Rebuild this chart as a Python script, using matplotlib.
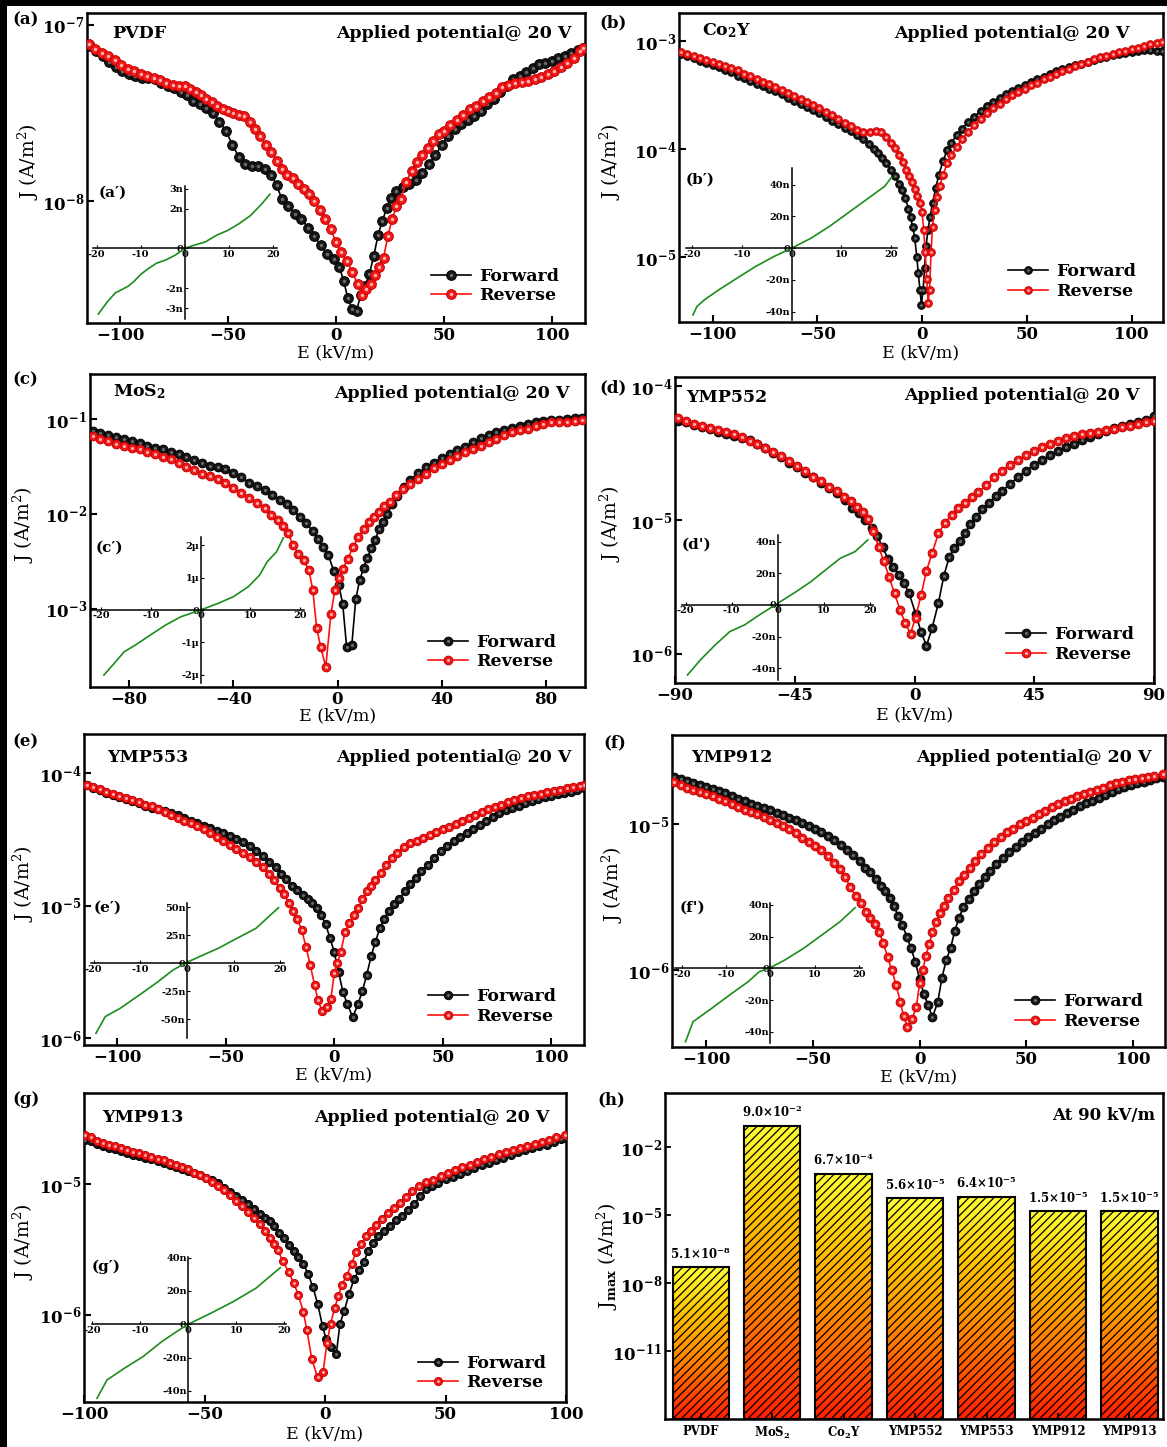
import numpy as np
import matplotlib
matplotlib.use("Agg")
import matplotlib.pyplot as plt
from matplotlib.colors import LinearSegmentedColormap
from matplotlib.patches import Rectangle
from matplotlib.ticker import FixedLocator, LogFormatterMathtext, NullLocator
from matplotlib.legend_handler import HandlerTuple

plt.rcParams.update({
    'font.family': 'DejaVu Serif',
    'font.weight': 'bold',
    'mathtext.fontset': 'custom',
    'mathtext.rm': 'DejaVu Serif:bold',
    'mathtext.it': 'DejaVu Serif:italic:bold',
    'mathtext.bf': 'DejaVu Serif:bold',
    'mathtext.default': 'regular',
    'axes.linewidth': 1.8,
    'hatch.linewidth': 0.9,
})

# ---------- J-E sweeps: (E in kV/m, log10 J in A/m^2) ----------
sweep_a_fwd = [
    (-114.0, -7.12), (-111.0, -7.15), (-108.0, -7.18), (-105.0, -7.21), (-102.0, -7.24),
    (-99.0, -7.26), (-96.0, -7.28), (-93.0, -7.29), (-90.0, -7.30), (-87.0, -7.305),
    (-84.0, -7.31), (-81.0, -7.33), (-78.0, -7.345), (-75.0, -7.36), (-72.0, -7.38),
    (-69.0, -7.40), (-66.0, -7.43), (-63.0, -7.45), (-60.0, -7.47), (-57.0, -7.50),
    (-54.0, -7.55), (-51.0, -7.60), (-48.0, -7.68), (-45.0, -7.75), (-42.0, -7.79),
    (-39.0, -7.80), (-36.0, -7.80), (-33.0, -7.82), (-30.0, -7.85), (-27.5, -7.91),
    (-25.0, -7.99), (-22.0, -8.03), (-19.0, -8.07), (-16.0, -8.10), (-13.0, -8.15),
    (-10.0, -8.20), (-7.0, -8.25), (-4.0, -8.30), (-1.0, -8.33), (1.5, -8.37),
    (3.5, -8.45), (5.5, -8.55), (7.5, -8.61), (9.5, -8.62), (11.5, -8.53),
    (13.5, -8.48), (15.5, -8.41), (17.5, -8.31), (19.5, -8.19), (21.5, -8.11),
    (23.5, -8.04), (25.5, -7.98), (28.0, -7.94), (31.0, -7.92), (34.0, -7.90),
    (37.0, -7.88), (40.0, -7.84), (43.0, -7.79), (46.0, -7.74), (49.0, -7.68),
    (52.0, -7.63), (55.0, -7.59), (58.0, -7.56), (61.0, -7.54), (64.0, -7.52),
    (67.0, -7.49), (70.0, -7.45), (73.0, -7.42), (76.0, -7.38), (79.0, -7.35),
    (82.0, -7.31), (85.0, -7.29), (88.0, -7.27), (91.0, -7.245), (94.0, -7.225),
    (97.0, -7.215), (100.0, -7.205), (103.0, -7.19), (106.0, -7.18), (109.0, -7.16),
    (112.0, -7.145), (114.5, -7.13)]
sweep_a_rev = [
    (-114.5, -7.11), (-111.5, -7.14), (-108.5, -7.16), (-105.5, -7.18), (-102.5, -7.20),
    (-99.5, -7.23), (-96.5, -7.25), (-93.5, -7.265), (-90.5, -7.28), (-87.5, -7.29),
    (-84.5, -7.30), (-81.5, -7.315), (-78.5, -7.33), (-75.5, -7.34), (-72.5, -7.345),
    (-70.0, -7.35), (-67.5, -7.365), (-65.0, -7.38), (-62.5, -7.40), (-60.0, -7.42),
    (-57.5, -7.44), (-55.0, -7.46), (-52.5, -7.475), (-50.0, -7.49), (-47.5, -7.50),
    (-45.0, -7.51), (-42.5, -7.52), (-40.0, -7.55), (-37.5, -7.59), (-35.0, -7.63),
    (-32.5, -7.68), (-30.0, -7.72), (-27.5, -7.77), (-25.0, -7.82), (-22.5, -7.85),
    (-20.0, -7.87), (-17.5, -7.90), (-15.0, -7.93), (-12.5, -7.96), (-10.0, -8.00),
    (-7.5, -8.05), (-5.0, -8.10), (-2.5, -8.16), (0.0, -8.23), (2.5, -8.29),
    (5.0, -8.34), (7.5, -8.40), (10.0, -8.47), (12.0, -8.53), (14.0, -8.50),
    (16.0, -8.47), (18.0, -8.42), (20.0, -8.37), (22.0, -8.32), (24.0, -8.20),
    (26.0, -8.10), (28.0, -8.03), (30.0, -7.99), (32.5, -7.89), (35.0, -7.83),
    (37.5, -7.78), (40.0, -7.74), (42.5, -7.70), (45.0, -7.66), (47.5, -7.62),
    (50.0, -7.60), (53.0, -7.57), (56.0, -7.54), (59.0, -7.51), (62.0, -7.48),
    (65.0, -7.46), (68.0, -7.43), (71.0, -7.41), (74.0, -7.385), (77.0, -7.355),
    (80.0, -7.34), (83.0, -7.33), (86.0, -7.325), (89.0, -7.32), (92.0, -7.31),
    (95.0, -7.295), (98.0, -7.28), (101.0, -7.26), (104.0, -7.24), (107.0, -7.22),
    (110.0, -7.19), (113.0, -7.15), (114.5, -7.13)]

sweep_b_fwd = [
    (-115.0, -3.12), (-112.0, -3.14), (-109.0, -3.16), (-106.0, -3.18), (-103.0, -3.20),
    (-100.0, -3.22), (-97.0, -3.24), (-94.0, -3.265), (-91.0, -3.29), (-88.0, -3.32),
    (-85.0, -3.345), (-82.0, -3.37), (-79.0, -3.395), (-76.0, -3.415), (-73.0, -3.44),
    (-70.0, -3.46), (-67.0, -3.49), (-64.0, -3.525), (-61.0, -3.555), (-58.0, -3.585),
    (-55.0, -3.61), (-52.0, -3.64), (-49.0, -3.67), (-46.0, -3.70), (-43.0, -3.735),
    (-40.0, -3.77), (-37.0, -3.80), (-34.0, -3.83), (-31.0, -3.87), (-28.0, -3.91),
    (-25.5, -3.95), (-23.0, -4.00), (-21.0, -4.04), (-19.0, -4.08), (-17.0, -4.13),
    (-15.0, -4.19), (-13.0, -4.25), (-11.0, -4.32), (-9.5, -4.38), (-8.0, -4.45),
    (-6.5, -4.55), (-5.5, -4.63), (-4.5, -4.72), (-3.5, -4.82), (-2.5, -5.00),
    (-1.8, -5.15), (-1.0, -5.30), (-0.3, -5.44), (0.5, -5.30), (1.2, -5.10),
    (1.9, -4.90), (2.8, -4.75), (3.8, -4.63), (5.0, -4.50), (6.5, -4.36),
    (8.0, -4.24), (10.0, -4.11), (12.0, -4.01), (14.0, -3.94), (16.5, -3.87),
    (19.0, -3.81), (22.0, -3.75), (25.0, -3.70), (28.0, -3.645), (31.0, -3.60),
    (34.0, -3.56), (37.0, -3.525), (40.0, -3.49), (43.0, -3.46), (46.0, -3.43),
    (49.0, -3.405), (52.0, -3.38), (55.0, -3.355), (58.0, -3.33), (61.0, -3.30),
    (64.0, -3.28), (67.0, -3.26), (70.0, -3.24), (73.0, -3.225), (76.0, -3.21),
    (79.0, -3.19), (82.0, -3.175), (85.0, -3.16), (88.0, -3.145), (91.0, -3.13),
    (94.0, -3.12), (97.0, -3.11), (100.0, -3.10), (103.0, -3.09), (106.0, -3.085),
    (109.0, -3.085), (112.0, -3.09), (114.5, -3.09)]
sweep_b_rev = [
    (-115.0, -3.10), (-112.0, -3.12), (-109.0, -3.14), (-106.0, -3.16), (-103.0, -3.175),
    (-100.0, -3.19), (-97.0, -3.21), (-94.0, -3.23), (-91.0, -3.25), (-88.0, -3.27),
    (-85.0, -3.30), (-82.0, -3.325), (-79.0, -3.35), (-76.0, -3.375), (-73.0, -3.40),
    (-70.0, -3.425), (-67.0, -3.45), (-64.0, -3.48), (-61.0, -3.51), (-58.0, -3.535),
    (-55.0, -3.565), (-52.0, -3.59), (-49.0, -3.62), (-46.0, -3.655), (-43.0, -3.685),
    (-40.0, -3.72), (-37.0, -3.755), (-34.0, -3.785), (-31.0, -3.82), (-28.0, -3.84),
    (-25.0, -3.84), (-22.0, -3.83), (-19.5, -3.84), (-17.0, -3.89), (-15.0, -3.94),
    (-13.0, -3.99), (-11.0, -4.05), (-9.0, -4.12), (-7.5, -4.19), (-6.0, -4.25),
    (-4.8, -4.30), (-3.5, -4.37), (-2.2, -4.43), (-1.0, -4.50), (0.0, -4.58),
    (0.8, -4.75), (1.5, -4.95), (2.2, -5.20), (2.9, -5.42), (3.6, -5.30),
    (4.3, -4.95), (5.0, -4.72), (6.0, -4.56), (7.2, -4.44), (8.5, -4.34),
    (10.0, -4.24), (12.0, -4.13), (14.0, -4.05), (16.5, -3.98), (19.0, -3.91),
    (22.0, -3.84), (25.0, -3.78), (28.0, -3.72), (31.0, -3.67), (34.0, -3.62),
    (37.0, -3.58), (40.0, -3.54), (43.0, -3.50), (46.0, -3.47), (49.0, -3.44),
    (52.0, -3.41), (55.0, -3.385), (58.0, -3.355), (61.0, -3.33), (64.0, -3.305),
    (67.0, -3.28), (70.0, -3.255), (73.0, -3.235), (76.0, -3.21), (79.0, -3.19),
    (82.0, -3.17), (85.0, -3.15), (88.0, -3.135), (91.0, -3.12), (94.0, -3.105),
    (97.0, -3.09), (100.0, -3.075), (103.0, -3.06), (106.0, -3.045), (109.0, -3.03),
    (112.0, -3.02), (114.5, -3.01)]

sweep_c_fwd = [
    (-94.0, -1.13), (-91.0, -1.15), (-88.0, -1.17), (-85.0, -1.19), (-82.0, -1.21),
    (-79.0, -1.235), (-76.0, -1.255), (-73.0, -1.28), (-70.0, -1.30), (-67.0, -1.32),
    (-64.0, -1.345), (-61.0, -1.37), (-58.0, -1.40), (-55.0, -1.43), (-52.0, -1.46),
    (-49.0, -1.49), (-46.0, -1.51), (-43.0, -1.53), (-40.0, -1.565), (-37.0, -1.61),
    (-34.0, -1.67), (-31.0, -1.71), (-28.0, -1.75), (-25.0, -1.80), (-22.0, -1.855),
    (-19.5, -1.90), (-17.0, -1.96), (-14.5, -2.03), (-12.0, -2.10), (-9.5, -2.18),
    (-7.5, -2.26), (-5.5, -2.35), (-3.5, -2.43), (-1.5, -2.60), (0.5, -2.75),
    (2.0, -2.95), (3.5, -3.40), (5.5, -3.38), (7.0, -2.90), (8.5, -2.70),
    (10.0, -2.57), (11.5, -2.46), (13.0, -2.36), (14.5, -2.27), (16.0, -2.16),
    (17.5, -2.08), (19.0, -2.00), (21.0, -1.90), (23.0, -1.81), (25.5, -1.72),
    (28.0, -1.64), (31.0, -1.57), (34.0, -1.51), (37.0, -1.46), (40.0, -1.41),
    (43.0, -1.37), (46.0, -1.33), (49.0, -1.29), (52.0, -1.24), (55.0, -1.20),
    (58.0, -1.165), (61.0, -1.135), (64.0, -1.115), (67.0, -1.095), (70.0, -1.075),
    (73.0, -1.055), (76.0, -1.035), (79.0, -1.02), (82.0, -1.01), (85.0, -1.005),
    (88.0, -0.995), (91.0, -0.99), (94.0, -0.985)]
sweep_c_rev = [
    (-94.0, -1.18), (-91.0, -1.205), (-88.0, -1.235), (-85.0, -1.26), (-82.0, -1.28),
    (-79.0, -1.305), (-76.0, -1.32), (-73.0, -1.345), (-70.0, -1.37), (-67.0, -1.40),
    (-64.0, -1.425), (-61.0, -1.465), (-58.0, -1.50), (-55.0, -1.54), (-52.0, -1.575),
    (-49.0, -1.605), (-46.0, -1.635), (-43.0, -1.67), (-40.0, -1.725), (-37.0, -1.78),
    (-34.0, -1.835), (-31.0, -1.885), (-28.0, -1.94), (-25.5, -2.01), (-23.0, -2.06),
    (-21.0, -2.13), (-19.0, -2.20), (-17.0, -2.33), (-15.0, -2.42), (-13.0, -2.49),
    (-11.0, -2.59), (-9.5, -2.80), (-8.0, -3.20), (-6.5, -3.40), (-4.5, -3.61),
    (-2.5, -3.05), (-1.0, -2.80), (0.5, -2.68), (2.0, -2.58), (4.0, -2.47),
    (6.0, -2.35), (8.0, -2.24), (10.0, -2.16), (12.0, -2.09), (14.0, -2.03),
    (16.0, -1.98), (18.0, -1.92), (20.0, -1.87), (22.5, -1.80), (25.0, -1.74),
    (28.0, -1.68), (31.0, -1.63), (34.0, -1.575), (37.0, -1.52), (40.0, -1.475),
    (43.0, -1.43), (46.0, -1.39), (49.0, -1.35), (52.0, -1.32), (55.0, -1.28),
    (58.0, -1.245), (61.0, -1.21), (64.0, -1.17), (67.0, -1.14), (70.0, -1.12),
    (73.0, -1.10), (76.0, -1.075), (79.0, -1.05), (82.0, -1.035), (85.0, -1.03),
    (88.0, -1.03), (91.0, -1.02), (94.0, -1.01)]

sweep_d_fwd = [
    (-89.0, -4.26), (-86.0, -4.27), (-83.0, -4.29), (-80.0, -4.305), (-77.0, -4.32),
    (-74.0, -4.34), (-71.0, -4.355), (-68.0, -4.37), (-65.0, -4.385), (-62.0, -4.405),
    (-59.0, -4.43), (-56.0, -4.465), (-53.0, -4.50), (-50.0, -4.53), (-47.0, -4.57),
    (-44.0, -4.605), (-41.0, -4.645), (-38.0, -4.68), (-35.0, -4.72), (-32.0, -4.76),
    (-29.0, -4.80), (-26.0, -4.85), (-23.5, -4.91), (-21.0, -4.95), (-18.5, -5.00),
    (-16.0, -5.06), (-14.0, -5.12), (-12.0, -5.20), (-10.0, -5.29), (-8.0, -5.35),
    (-6.0, -5.41), (-4.0, -5.47), (-2.0, -5.55), (0.4, -5.70), (2.5, -5.84),
    (4.5, -5.94), (6.6, -5.81), (9.0, -5.62), (11.0, -5.42), (13.0, -5.28),
    (15.0, -5.21), (17.0, -5.16), (19.0, -5.10), (21.0, -5.03), (23.0, -4.98),
    (25.5, -4.92), (28.0, -4.87), (30.5, -4.82), (33.0, -4.78), (36.0, -4.73),
    (39.0, -4.675), (42.0, -4.63), (45.0, -4.585), (48.0, -4.55), (51.0, -4.515),
    (54.0, -4.485), (57.0, -4.455), (60.0, -4.43), (63.0, -4.40), (66.0, -4.38),
    (69.0, -4.355), (72.0, -4.335), (75.0, -4.315), (78.0, -4.30), (81.0, -4.285),
    (84.0, -4.27), (87.0, -4.25), (90.0, -4.22)]
sweep_d_rev = [
    (-89.0, -4.24), (-86.0, -4.26), (-83.0, -4.28), (-80.0, -4.30), (-77.0, -4.31),
    (-74.0, -4.325), (-71.0, -4.345), (-68.0, -4.36), (-65.0, -4.38), (-62.0, -4.41),
    (-59.0, -4.43), (-56.0, -4.46), (-53.0, -4.49), (-50.0, -4.52), (-47.0, -4.555),
    (-44.0, -4.595), (-41.0, -4.635), (-38.0, -4.675), (-35.0, -4.71), (-32.0, -4.75),
    (-29.0, -4.785), (-26.5, -4.83), (-24.0, -4.86), (-21.5, -4.905), (-19.5, -4.94),
    (-17.5, -4.99), (-15.5, -5.08), (-13.5, -5.20), (-11.5, -5.31), (-9.5, -5.43),
    (-7.5, -5.55), (-5.5, -5.67), (-3.5, -5.77), (-1.5, -5.85), (0.4, -5.73),
    (2.5, -5.56), (4.5, -5.38), (6.6, -5.25), (9.0, -5.10), (11.5, -5.02),
    (14.0, -4.96), (16.5, -4.91), (19.0, -4.87), (21.5, -4.83), (24.0, -4.79),
    (27.0, -4.74), (30.0, -4.68), (33.0, -4.63), (36.0, -4.585), (39.0, -4.55),
    (42.0, -4.515), (45.0, -4.485), (48.0, -4.455), (51.0, -4.43), (54.0, -4.41),
    (57.0, -4.39), (60.0, -4.375), (63.0, -4.36), (66.0, -4.35), (69.0, -4.34),
    (72.0, -4.33), (75.0, -4.32), (78.0, -4.305), (81.0, -4.295), (84.0, -4.28),
    (87.0, -4.27), (90.0, -4.26)]

sweep_e_fwd = [
    (-114.0, -4.09), (-111.0, -4.11), (-108.0, -4.13), (-105.0, -4.15), (-102.0, -4.165),
    (-99.0, -4.18), (-96.0, -4.195), (-93.0, -4.21), (-90.0, -4.225), (-87.0, -4.245),
    (-84.0, -4.26), (-81.0, -4.275), (-78.0, -4.29), (-75.0, -4.305), (-72.0, -4.32),
    (-69.0, -4.34), (-66.0, -4.36), (-63.0, -4.38), (-60.0, -4.40), (-57.0, -4.415),
    (-54.0, -4.435), (-51.0, -4.455), (-48.0, -4.475), (-45.0, -4.50), (-42.0, -4.52),
    (-39.0, -4.55), (-36.0, -4.585), (-33.0, -4.625), (-30.0, -4.67), (-27.0, -4.71),
    (-24.5, -4.76), (-22.0, -4.80), (-19.5, -4.85), (-17.0, -4.885), (-14.5, -4.92),
    (-12.0, -4.95), (-10.0, -4.98), (-8.0, -5.02), (-6.0, -5.07), (-4.0, -5.14),
    (-2.0, -5.24), (0.0, -5.35), (2.0, -5.50), (4.0, -5.65), (6.0, -5.74),
    (8.5, -5.84), (11.0, -5.74), (13.0, -5.64), (15.0, -5.52), (17.0, -5.38),
    (19.0, -5.27), (21.0, -5.17), (23.0, -5.10), (25.0, -5.04), (27.5, -4.99),
    (30.0, -4.95), (32.5, -4.89), (35.0, -4.84), (37.5, -4.79), (40.0, -4.74),
    (43.0, -4.69), (46.0, -4.64), (49.0, -4.59), (52.0, -4.55), (55.0, -4.515),
    (58.0, -4.48), (61.0, -4.45), (64.0, -4.42), (67.0, -4.39), (70.0, -4.36),
    (73.0, -4.33), (76.0, -4.30), (79.0, -4.28), (82.0, -4.26), (85.0, -4.245),
    (88.0, -4.225), (91.0, -4.21), (94.0, -4.195), (97.0, -4.18), (100.0, -4.17),
    (103.0, -4.16), (106.0, -4.15), (109.0, -4.14), (112.0, -4.125), (115.0, -4.11)]
sweep_e_rev = [
    (-114.0, -4.09), (-111.0, -4.105), (-108.0, -4.12), (-105.0, -4.14), (-102.0, -4.155),
    (-99.0, -4.17), (-96.0, -4.185), (-93.0, -4.20), (-90.0, -4.22), (-87.0, -4.24),
    (-84.0, -4.25), (-81.0, -4.27), (-78.0, -4.295), (-75.0, -4.32), (-72.0, -4.34),
    (-69.0, -4.36), (-66.0, -4.38), (-63.0, -4.40), (-60.0, -4.425), (-57.0, -4.455),
    (-54.0, -4.48), (-51.0, -4.51), (-48.0, -4.54), (-45.0, -4.57), (-42.0, -4.60),
    (-39.0, -4.63), (-36.0, -4.67), (-33.0, -4.71), (-30.0, -4.76), (-27.5, -4.81),
    (-25.0, -4.87), (-23.0, -4.91), (-21.0, -4.98), (-19.0, -5.04), (-17.0, -5.10),
    (-15.0, -5.18), (-13.0, -5.31), (-11.0, -5.45), (-9.0, -5.60), (-7.5, -5.71),
    (-5.7, -5.79), (-3.5, -5.76), (-1.5, -5.70), (0.0, -5.51), (1.5, -5.43),
    (3.0, -5.35), (5.0, -5.20), (7.0, -5.13), (9.0, -5.07), (11.0, -5.02),
    (13.0, -4.95), (15.0, -4.89), (17.0, -4.85), (19.0, -4.81), (21.5, -4.75),
    (24.0, -4.69), (26.5, -4.64), (29.0, -4.60), (32.0, -4.56), (35.0, -4.53),
    (38.0, -4.51), (41.0, -4.49), (44.0, -4.465), (47.0, -4.445), (50.0, -4.425),
    (53.0, -4.405), (56.0, -4.385), (59.0, -4.36), (62.0, -4.34), (65.0, -4.315),
    (68.0, -4.295), (71.0, -4.275), (74.0, -4.255), (77.0, -4.24), (80.0, -4.22),
    (83.0, -4.205), (86.0, -4.19), (89.0, -4.175), (92.0, -4.165), (95.0, -4.155),
    (98.0, -4.145), (101.0, -4.135), (104.0, -4.125), (107.0, -4.115), (110.0, -4.105),
    (113.0, -4.095), (115.0, -4.09)]

sweep_f_fwd = [
    (-115.0, -4.68), (-112.0, -4.69), (-109.0, -4.705), (-106.0, -4.72), (-103.0, -4.735),
    (-100.0, -4.745), (-97.0, -4.76), (-94.0, -4.775), (-91.0, -4.79), (-88.0, -4.805),
    (-85.0, -4.825), (-82.0, -4.84), (-79.0, -4.86), (-76.0, -4.875), (-73.0, -4.89),
    (-70.0, -4.905), (-67.0, -4.925), (-64.0, -4.94), (-61.0, -4.96), (-58.0, -4.975),
    (-55.0, -4.995), (-52.0, -5.01), (-49.0, -5.03), (-46.0, -5.055), (-43.0, -5.08),
    (-40.0, -5.11), (-37.0, -5.14), (-34.0, -5.18), (-31.0, -5.21), (-28.0, -5.255),
    (-25.5, -5.30), (-23.0, -5.33), (-20.5, -5.375), (-18.0, -5.42), (-16.0, -5.46),
    (-14.0, -5.505), (-12.0, -5.56), (-10.0, -5.63), (-8.0, -5.69), (-6.0, -5.77),
    (-4.0, -5.85), (-2.0, -5.94), (0.0, -6.06), (2.0, -6.16), (4.0, -6.24),
    (6.0, -6.32), (8.5, -6.22), (10.5, -6.05), (12.5, -5.93), (14.5, -5.85),
    (16.5, -5.73), (18.5, -5.64), (20.5, -5.57), (23.0, -5.51), (25.5, -5.46),
    (28.0, -5.41), (30.5, -5.36), (33.0, -5.32), (36.0, -5.275), (39.0, -5.23),
    (42.0, -5.19), (45.0, -5.155), (48.0, -5.12), (51.0, -5.09), (54.0, -5.06),
    (57.0, -5.03), (60.0, -5.00), (63.0, -4.975), (66.0, -4.95), (69.0, -4.925),
    (72.0, -4.90), (75.0, -4.875), (78.0, -4.855), (81.0, -4.84), (84.0, -4.82),
    (87.0, -4.80), (90.0, -4.78), (93.0, -4.76), (96.0, -4.745), (99.0, -4.73),
    (102.0, -4.72), (105.0, -4.71), (108.0, -4.695), (111.0, -4.685), (114.0, -4.675)]
sweep_f_rev = [
    (-115.0, -4.71), (-112.0, -4.73), (-109.0, -4.75), (-106.0, -4.765), (-103.0, -4.78),
    (-100.0, -4.795), (-97.0, -4.81), (-94.0, -4.83), (-91.0, -4.845), (-88.0, -4.86),
    (-85.0, -4.88), (-82.0, -4.90), (-79.0, -4.915), (-76.0, -4.93), (-73.0, -4.95),
    (-70.0, -4.97), (-67.0, -4.99), (-64.0, -5.01), (-61.0, -5.035), (-58.0, -5.06),
    (-55.0, -5.095), (-52.0, -5.12), (-49.0, -5.15), (-46.0, -5.18), (-43.0, -5.22),
    (-40.0, -5.265), (-37.5, -5.31), (-35.0, -5.36), (-32.5, -5.43), (-30.0, -5.49),
    (-27.5, -5.54), (-25.0, -5.60), (-23.0, -5.64), (-21.0, -5.68), (-19.0, -5.74),
    (-17.0, -5.81), (-15.0, -5.91), (-13.0, -6.00), (-11.0, -6.10), (-9.0, -6.22),
    (-7.5, -6.31), (-5.7, -6.39), (-3.5, -6.33), (-1.5, -6.25), (0.0, -6.09),
    (1.5, -6.00), (3.0, -5.90), (4.5, -5.82), (6.0, -5.74), (7.7, -5.67),
    (9.5, -5.61), (11.5, -5.56), (13.5, -5.505), (16.0, -5.45), (18.5, -5.39),
    (21.0, -5.345), (23.5, -5.30), (26.0, -5.255), (29.0, -5.205), (32.0, -5.165),
    (35.0, -5.125), (38.0, -5.09), (41.0, -5.055), (44.0, -5.03), (47.0, -5.00),
    (50.0, -4.98), (53.0, -4.955), (56.0, -4.93), (59.0, -4.91), (62.0, -4.885),
    (65.0, -4.865), (68.0, -4.845), (71.0, -4.83), (74.0, -4.81), (77.0, -4.795),
    (80.0, -4.78), (83.0, -4.765), (86.0, -4.75), (89.0, -4.735), (92.0, -4.72),
    (95.0, -4.71), (98.0, -4.70), (101.0, -4.69), (104.0, -4.685), (107.0, -4.68),
    (110.0, -4.67), (114.0, -4.66)]

sweep_g_fwd = [
    (-99.5, -4.66), (-97.0, -4.67), (-94.5, -4.69), (-92.0, -4.705), (-89.5, -4.72),
    (-87.0, -4.73), (-84.5, -4.745), (-82.0, -4.76), (-79.5, -4.775), (-77.0, -4.785),
    (-74.5, -4.80), (-72.0, -4.81), (-69.5, -4.825), (-67.0, -4.84), (-64.5, -4.855),
    (-62.0, -4.87), (-59.5, -4.88), (-57.0, -4.895), (-54.5, -4.91), (-52.0, -4.93),
    (-49.5, -4.95), (-47.0, -4.97), (-44.5, -4.99), (-42.0, -5.03), (-39.5, -5.06),
    (-37.0, -5.09), (-34.5, -5.12), (-32.0, -5.155), (-29.5, -5.19), (-27.0, -5.225),
    (-25.0, -5.255), (-23.0, -5.285), (-21.0, -5.32), (-19.0, -5.37), (-17.0, -5.41),
    (-15.0, -5.465), (-13.0, -5.51), (-11.0, -5.56), (-9.0, -5.61), (-7.0, -5.69),
    (-5.0, -5.79), (-3.0, -5.92), (-1.0, -6.09), (0.5, -6.19), (2.5, -6.25),
    (4.7, -6.30), (6.2, -6.07), (8.0, -5.97), (10.0, -5.84), (12.0, -5.73),
    (14.0, -5.66), (16.0, -5.60), (18.0, -5.51), (20.0, -5.45), (22.0, -5.40),
    (24.5, -5.36), (27.0, -5.32), (29.5, -5.275), (32.0, -5.24), (34.5, -5.20),
    (37.0, -5.15), (39.5, -5.09), (42.0, -5.04), (44.5, -5.01), (47.0, -4.99),
    (50.0, -4.96), (53.0, -4.945), (56.0, -4.92), (59.0, -4.895), (62.0, -4.875),
    (65.0, -4.855), (68.0, -4.835), (71.0, -4.815), (74.0, -4.795), (77.0, -4.775),
    (80.0, -4.755), (83.0, -4.74), (86.0, -4.725), (89.0, -4.71), (92.0, -4.695),
    (95.0, -4.675), (98.0, -4.655), (99.5, -4.645)]
sweep_g_rev = [
    (-99.5, -4.62), (-97.0, -4.64), (-94.5, -4.665), (-92.0, -4.68), (-89.5, -4.695),
    (-87.0, -4.71), (-84.5, -4.72), (-82.0, -4.735), (-79.5, -4.75), (-77.0, -4.76),
    (-74.5, -4.775), (-72.0, -4.79), (-69.5, -4.805), (-67.0, -4.815), (-64.5, -4.835),
    (-62.0, -4.855), (-59.5, -4.87), (-57.0, -4.885), (-54.5, -4.91), (-52.0, -4.93),
    (-49.5, -4.955), (-47.0, -4.98), (-44.5, -5.01), (-42.0, -5.045), (-39.5, -5.08),
    (-37.0, -5.125), (-34.5, -5.17), (-32.0, -5.21), (-29.5, -5.255), (-27.0, -5.305),
    (-25.0, -5.36), (-23.0, -5.41), (-21.0, -5.46), (-19.5, -5.505), (-17.5, -5.59),
    (-15.0, -5.675), (-13.0, -5.76), (-11.0, -5.85), (-9.0, -5.98), (-7.5, -6.12),
    (-5.5, -6.34), (-3.1, -6.48), (-0.8, -6.44), (0.8, -6.22), (2.3, -6.07),
    (4.0, -5.95), (5.5, -5.86), (7.0, -5.77), (9.0, -5.70), (11.0, -5.61),
    (13.0, -5.52), (15.0, -5.46), (17.0, -5.40), (19.0, -5.36), (21.0, -5.31),
    (23.5, -5.265), (26.0, -5.22), (28.5, -5.18), (31.0, -5.14), (33.5, -5.10),
    (36.0, -5.055), (39.0, -5.015), (42.0, -4.985), (45.0, -4.965), (48.0, -4.94),
    (51.0, -4.91), (54.0, -4.89), (57.0, -4.87), (60.0, -4.85), (63.0, -4.83),
    (66.0, -4.81), (69.0, -4.79), (72.0, -4.77), (75.0, -4.75), (78.0, -4.735),
    (81.0, -4.72), (84.0, -4.705), (87.0, -4.69), (90.0, -4.675), (93.0, -4.66),
    (96.0, -4.64), (99.5, -4.62)]

# ---------- inset I-V curves (V in volts, I in nA; panel c in uA) ----------
V_a = [-19.6, -17.4, -15.7, -14.9, -12.8, -11.5, -9.8, -8.1, -6.4, -4.3,
       -2.1, 0.0, 2.1, 4.7, 7.2, 9.8, 12.3, 14.9, 17.4, 19.3]
I_a = [-3.29, -2.64, -2.22, -2.14, -1.89, -1.65, -1.27, -0.99, -0.74, -0.58,
       -0.33, 0.0, 0.16, 0.33, 0.66, 0.91, 1.24, 1.65, 2.22, 2.72]
V_b = [-19.9, -19.1, -17.6, -14.7, -11.0, -7.3, -3.6, 0.0, 3.9, 7.6, 11.3, 15.0, 18.7, 20.1]
I_b = [-42.1, -36.8, -32.6, -26.3, -18.9, -11.6, -5.3, 0.0, 6.3, 13.7, 22.1, 30.5, 38.9, 44.6]
V_c = [-19.5, -17.7, -15.4, -13.1, -10.1, -7.0, -4.0, 0.0, 3.6, 6.6, 9.6, 11.9, 13.4, 15.3, 16.8]
I_c = [-2.01, -1.70, -1.29, -1.08, -0.77, -0.46, -0.21, 0.0, 0.21, 0.41, 0.72, 1.08, 1.49, 1.80, 2.27]
V_d = [-19.6, -16.8, -13.6, -10.4, -7.2, -4.0, 0.0, 4.0, 7.2, 10.4, 13.6, 16.8, 19.6]
I_d = [-44.2, -34.7, -25.3, -16.8, -12.6, -6.3, 1.0, 8.4, 14.7, 22.1, 29.5, 33.7, 41.1]
V_e = [-19.5, -17.5, -14.3, -10.2, -6.2, -3.0, 0.0, 2.7, 6.7, 10.7, 14.8, 19.6]
I_e = [-62.5, -47.6, -40.2, -28.3, -16.4, -6.0, 0.9, 6.0, 13.4, 22.3, 31.3, 49.7]
V_f = [-19.2, -17.5, -13.3, -9.2, -5.0, -2.5, 0.0, 3.3, 7.5, 11.7, 15.8, 19.2]
I_f = [-46.3, -33.7, -25.3, -16.8, -8.4, -2.1, 0.4, 5.3, 12.6, 21.1, 29.5, 38.3]
V_g = [-19.0, -16.9, -13.3, -9.4, -5.5, -2.4, 0.0, 4.7, 9.4, 14.1, 19.2]
I_g = [-44.4, -33.4, -26.4, -19.4, -10.4, -4.4, 0.0, 6.6, 13.6, 21.6, 34.0]

# ---------- maximum current density at 90 kV/m ----------
materials = ['PVDF', 'MoS$_2$', 'Co$_2$Y', 'YMP552', 'YMP553', 'YMP912', 'YMP913']
J_max = [5.1e-8, 9.0e-2, 6.7e-4, 5.6e-5, 6.4e-5, 1.5e-5, 1.5e-5]

# ---------- figure / layout helpers (pixel coordinates) ----------
W, H = 1167, 1447
fig = plt.figure(figsize=(W / 100, H / 100), dpi=100)
fig.patch.set_facecolor('white')


def px_rect(r):
    x0, y0, x1, y1 = r
    return [x0 / W, 1 - y1 / H, (x1 - x0) / W, (y1 - y0) / H]


def fx(x):
    return x / W


def fy(y):
    return 1 - y / H


def ax_frac(r, x, y):
    x0, y0, x1, y1 = r
    return (x - x0) / (x1 - x0), (y1 - y) / (y1 - y0)


PANELS = [
    dict(rect=(87, 13, 585, 323), xlim=(-115.3, 115.3), ylim=(-8.69, -6.934),
         xticks=[-100, -50, 0, 50, 100], yexp=[-8, -7], ms=7.0,
         fwd=sweep_a_fwd, rev=sweep_a_rev,
         name='PVDF', name_xy=(112, 33), app_xy=(572, 33),
         letter='(a)', letter_xy=(12, 20), ylab_x=28, xlab_y=353, leg=(431, 275, 297),
         ins=dict(rect=(93, 186, 277, 319), V=V_a, I=I_a, xlim=(-20.8, 20.9),
                  ylim=(-3.54, 3.13), yt=[-3, -2, 0, 2, 3], unit='n',
                  tag='(a′)', tag_xy=(99, 193))),
    dict(rect=(679, 13, 1163, 322), xlim=(-116, 115), ylim=(-5.6, -2.74),
         xticks=[-100, -50, 0, 50, 100], yexp=[-5, -4, -3], ms=5.5,
         fwd=sweep_b_fwd, rev=sweep_b_rev,
         name='Co$_2$Y', name_xy=(702, 31), app_xy=(1129, 33),
         letter='(b)', letter_xy=(599, 23), ylab_x=610, xlab_y=353, leg=(1008, 270, 293),
         ins=dict(rect=(686, 168, 897, 320), V=V_b, I=I_b, xlim=(-21.3, 21.2),
                  ylim=(-45.3, 50.5), yt=[-40, -20, 0, 20, 40], unit='n',
                  tag='(b′)', tag_xy=(686, 180))),
    dict(rect=(90, 374, 585, 687), xlim=(-95, 95), ylim=(-3.824, -0.525),
         xticks=[-80, -40, 0, 40, 80], yexp=[-3, -2, -1], ms=6.3,
         fwd=sweep_c_fwd, rev=sweep_c_rev,
         name='MoS$_2$', name_xy=(113, 392), app_xy=(570, 393),
         letter='(c)', letter_xy=(12, 380), ylab_x=23, xlab_y=716, leg=(428, 641, 663),
         ins=dict(rect=(91.5, 536.6, 303.8, 683.4), V=V_c, I=I_c, xlim=(-22, 20.8),
                  ylim=(-2.27, 2.27), yt=[-2, -1, 0, 1, 2], unit='µ',
                  tag='(c′)', tag_xy=(96, 548))),
    dict(rect=(675, 377, 1154, 683), xlim=(-90, 90), ylim=(-6.22, -3.93),
         xticks=[-90, -45, 0, 45, 90], yexp=[-6, -5, -4], ms=6.3,
         fwd=sweep_d_fwd, rev=sweep_d_rev,
         name='YMP552', name_xy=(686, 397), app_xy=(1140, 395),
         letter='(d)', letter_xy=(599, 388), ylab_x=610, xlab_y=715, leg=(1006, 633, 656),
         ins=dict(rect=(682, 535, 872.5, 680), V=V_d, I=I_d, xlim=(-20.8, 20.6),
                  ylim=(-47.4, 44.2), yt=[-40, -20, 0, 20, 40], unit='n',
                  tag="(d')", tag_xy=(682, 545))),
    dict(rect=(84, 734, 584, 1045), xlim=(-115.2, 115), ylim=(-6.05, -3.706),
         xticks=[-100, -50, 0, 50, 100], yexp=[-6, -5, -4], ms=6.0,
         fwd=sweep_e_fwd, rev=sweep_e_rev,
         name='YMP553', name_xy=(107, 758), app_xy=(572, 758),
         letter='(e)', letter_xy=(12, 742), ylab_x=23, xlab_y=1075, leg=(428, 995, 1018),
         ins=dict(rect=(91.3, 903.3, 284.1, 1038.3), V=V_e, I=I_e, xlim=(-20.5, 20.8),
                  ylim=(-67, 53.6), yt=[-50, -25, 0, 25, 50], unit='n',
                  tag='(e′)', tag_xy=(94, 908))),
    dict(rect=(672, 735, 1165, 1047), xlim=(-116, 115), ylim=(-6.525, -4.39),
         xticks=[-100, -50, 0, 50, 100], yexp=[-6, -5], ms=6.3,
         fwd=sweep_f_fwd, rev=sweep_f_rev,
         name='YMP912', name_xy=(691, 758), app_xy=(1151, 758),
         letter='(f)', letter_xy=(603, 743), ylab_x=612, xlab_y=1077, leg=(1015, 1000, 1023),
         ins=dict(rect=(674.5, 903.4, 862.2, 1043.4), V=V_f, I=I_f, xlim=(-21.7, 20.8),
                  ylim=(-47.4, 41), yt=[-40, -20, 0, 20, 40], unit='n',
                  tag="(f')", tag_xy=(680, 908))),
    dict(rect=(84, 1093, 566, 1402), xlim=(-100, 100), ylim=(-6.67, -4.3),
         xticks=[-100, -50, 0, 50, 100], yexp=[-6, -5], ms=5.8,
         fwd=sweep_g_fwd, rev=sweep_g_rev,
         name='YMP913', name_xy=(102, 1117), app_xy=(549, 1117),
         letter='(g)', letter_xy=(12, 1100), ylab_x=23, xlab_y=1434, leg=(418, 1362, 1384),
         ins=dict(rect=(91.7, 1256.6, 286.1, 1401.6), V=V_g, I=I_g, xlim=(-20.1, 20.4),
                  ylim=(-46.4, 40.6), yt=[-40, -20, 0, 20, 40], unit='n',
                  tag='(g′)', tag_xy=(92, 1267))),
]

RED = '#ff1010'
GREEN = '#1c8c1c'


def sweep(ax, pairs, color, face, edge, hl, ms, z):
    E, lg = zip(*pairs)
    J = 10.0 ** np.asarray(lg)
    line, = ax.plot(E, J, '-', color=color, lw=1.2, marker='o', ms=ms,
                    mfc=face, mec=edge, mew=0.7, zorder=z)
    dot, = ax.plot(E, J, ls='none', marker='o', ms=ms * 0.36, mfc=hl,
                   mec='none', zorder=z + 0.1)
    return line, dot


for p in PANELS:
    r = p['rect']
    ax = fig.add_axes(px_rect(r))
    ax.set_yscale('log')
    f_line = sweep(ax, p['fwd'], 'black', '#161616', 'black', '#6a6a6a', p['ms'], 3)
    r_line = sweep(ax, p['rev'], RED, '#f01818', '#c80000', '#ffb0b0', p['ms'], 4)
    ax.set_xlim(*p['xlim'])
    ax.set_ylim(10.0 ** p['ylim'][0], 10.0 ** p['ylim'][1])
    ax.xaxis.set_major_locator(FixedLocator(p['xticks']))
    ax.yaxis.set_major_locator(FixedLocator([10.0 ** k for k in p['yexp']]))
    ax.yaxis.set_major_formatter(LogFormatterMathtext())
    ax.yaxis.set_minor_locator(NullLocator())
    ax.tick_params(direction='in', length=5, width=1.5, labelsize=12)
    ax.tick_params(axis='x', pad=3)
    ax.tick_params(axis='y', pad=2)

    ax.set_xlabel('E (kV/m)', fontsize=12.5)
    ax.xaxis.set_label_coords(*ax_frac(r, (r[0] + r[2]) / 2, p['xlab_y']))
    ax.xaxis.label.set_verticalalignment('center')
    ax.set_ylabel('J (A/m$^2$)', fontsize=13.5)
    ax.yaxis.set_label_coords(*ax_frac(r, p['ylab_x'], (r[1] + r[3]) / 2 - 6))
    ax.yaxis.label.set_verticalalignment('center')

    fig.text(fx(p['name_xy'][0]), fy(p['name_xy'][1]), p['name'], ha='left', va='center', fontsize=12.5)
    fig.text(fx(p['app_xy'][0]), fy(p['app_xy'][1]), 'Applied potential@ 20 V',
             ha='right', va='center', fontsize=12.5)
    fig.text(fx(p['letter_xy'][0]), fy(p['letter_xy'][1]), p['letter'], ha='left', va='center', fontsize=12)

    hx, yf, yr = p['leg']
    ax.legend([f_line, r_line], ['Forward', 'Reverse'],
              handler_map={tuple: HandlerTuple(ndivide=1)},
              loc='center left', bbox_to_anchor=(fx(hx), fy((yf + yr) / 2)),
              bbox_transform=fig.transFigure, frameon=False, borderpad=0,
              borderaxespad=0, handlelength=2.3, handletextpad=0.45,
              labelspacing=0.15, prop={'size': 12.5, 'weight': 'bold'})

    q = p['ins']
    ia = fig.add_axes(px_rect(q['rect']))
    ia.set_facecolor('none')
    ia.plot(q['V'], q['I'], color=GREEN, lw=1.2)
    ia.set_xlim(*q['xlim'])
    ia.set_ylim(*q['ylim'])
    for s in ('top', 'right'):
        ia.spines[s].set_visible(False)
    for s in ('left', 'bottom'):
        ia.spines[s].set_position(('data', 0))
        ia.spines[s].set_linewidth(1.1)
    ia.set_xticks([-20, -10, 0, 10, 20])
    ia.set_xticklabels(['-20', '-10', '0', '10', '20'])
    ia.set_yticks(q['yt'])
    ia.set_yticklabels(['0' if v == 0 else f'{v:g}{q["unit"]}' for v in q['yt']])
    ia.tick_params(direction='in', length=2.5, width=0.8, labelsize=7, pad=1)
    fig.text(fx(q['tag_xy'][0]), fy(q['tag_xy'][1]), q['tag'], ha='left', va='center', fontsize=11)

# ---------- (h) bar chart of J_max ----------
rh = (665, 1093, 1163, 1419)
axh = fig.add_axes(px_rect(rh))
axh.set_yscale('log')
y_lo, y_hi = 1e-14, 10 ** 0.4
axh.set_ylim(y_lo, y_hi)
axh.set_xlim(-0.5, 6.47)
xpos = np.arange(len(materials))
bars = axh.bar(xpos, J_max, width=0.79, bottom=y_lo, facecolor='none',
               edgecolor='black', linewidth=1.5, hatch='////', zorder=3)

heat = LinearSegmentedColormap.from_list(
    'heat', [(0.0, '#ff1e00'), (0.35, '#ff7a00'), (0.7, '#ffc400'), (1.0, '#ffff33')])
grad = np.linspace(0, 1, 256).reshape(-1, 1)
to_axes = axh.transAxes.inverted()
for b in bars:
    x0, y0 = b.get_xy()
    x1, y1 = x0 + b.get_width(), y0 + b.get_height()
    ax0, ay0 = to_axes.transform(axh.transData.transform((x0, y0)))
    ax1, ay1 = to_axes.transform(axh.transData.transform((x1, y1)))
    axh.imshow(grad, extent=(ax0, ax1, ay0, ay1), transform=axh.transAxes,
               cmap=heat, aspect='auto', origin='lower', zorder=1,
               interpolation='bilinear')
axh.set_xlim(-0.5, 6.47)
axh.set_ylim(y_lo, y_hi)

for xi, v in zip(xpos, J_max):
    e = int(np.floor(np.log10(v)))
    m = v / 10.0 ** e
    axh.annotate(f'{m:.1f}×10$^{{{e}}}$', (xi, v), xytext=(0, 4),
                 textcoords='offset points', ha='center', va='bottom', fontsize=8.5)

axh.yaxis.set_major_locator(FixedLocator([1e-11, 1e-8, 1e-5, 1e-2]))
axh.yaxis.set_major_formatter(LogFormatterMathtext())
axh.yaxis.set_minor_locator(NullLocator())
axh.set_xticks(xpos)
axh.set_xticklabels(materials, fontsize=8.5)
axh.tick_params(direction='in', length=4, width=1.3)
axh.tick_params(axis='y', labelsize=12, pad=2)
axh.tick_params(axis='x', pad=4)
axh.set_ylabel('J$_{\\mathrm{max}}$ (A/m$^2$)', fontsize=13.5)
axh.yaxis.set_label_coords(*ax_frac(rh, 607, (rh[1] + rh[3]) / 2))
axh.yaxis.label.set_verticalalignment('center')
fig.text(fx(1155), fy(1115), 'At 90 kV/m', ha='right', va='center', fontsize=12)
fig.text(fx(597), fy(1100), '(h)', ha='left', va='center', fontsize=12)

# frame edges along the top and left of the sheet
fig.add_artist(Rectangle((0, fy(6)), 1, 6 / H, transform=fig.transFigure,
                         facecolor='black', edgecolor='none', zorder=20))
fig.add_artist(Rectangle((0, 0), 7 / W, 1, transform=fig.transFigure,
                         facecolor='black', edgecolor='none', zorder=20))

fig.savefig('out.png', dpi=100)
